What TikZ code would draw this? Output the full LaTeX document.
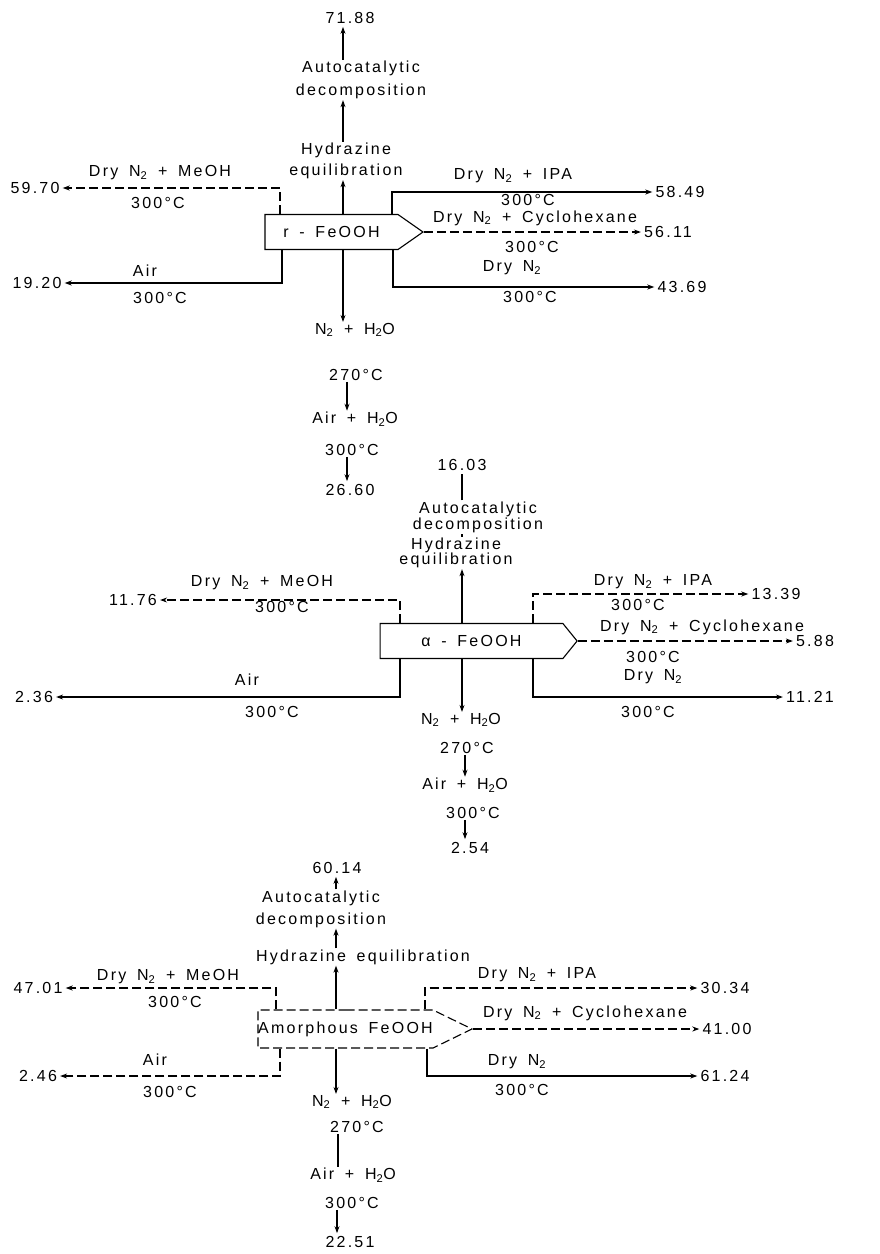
\documentclass[tikz,border=0pt]{standalone}
\usepackage{fontspec}
\setmainfont[LetterSpace=14, WordSpace=1.6]{Liberation Sans}
\usetikzlibrary{shapes.symbols,arrows.meta}
\tikzset{
  box/.style={draw, signal, signal to=east, line width=1.1pt, inner sep=2pt},
  txt/.style={inner sep=1pt, align=center},
  num/.style={inner sep=3pt},
  flow/.style={-{Stealth[length=7pt,width=5pt]}, line width=1.1pt},
  link/.style={line width=1.1pt},
  broken/.style={dash pattern=on 9pt off 4pt},
  every node/.style={font=\fontsize{16}{19}\selectfont},
}
\begin{document}
\begin{tikzpicture}[x=1pt,y=-1pt]
\path[use as bounding box, fill=white] (0,0) rectangle (879,1254);

% r-FeOOH
\node[box, signal pointer angle=70, minimum width=158pt, minimum height=35pt] (g) at (331.5,232) {r - FeOOH};
\node[num] (n7188) at (350,18) {71.88};
\node[txt] (auto1) at (361,80) {Autocatalytic\\[4pt]decomposition};
\node[txt] (hyd1) at (346,161) {Hydrazine\\[2pt]equilibration};
\draw[flow] ([xshift=11.5pt]g.north) -- (hyd1.south -| 343,0);
\draw[flow] (hyd1.north -| 343,0) -- (auto1.south -| 343,0);
\draw[flow] (auto1.north -| 343,0) -- (n7188.south -| 343,0);
\node[num] (n5970) at (35,188) {59.70};
\draw[flow, broken] ([xshift=-51.5pt]g.north) |- (n5970);
\node[txt] at (160,173) {Dry N\textsubscript{2} + MeOH};
\node[txt] at (158,203) {300°C};
\node[num] (n1920) at (37,283) {19.20};
\draw[flow] ([xshift=-49.5pt]g.south) |- (n1920);
\node[txt] at (145,271) {Air};
\node[txt] at (160,298) {300°C};
\node[num] (n5849) at (680,192) {58.49};
\draw[flow] ([xshift=60.5pt]g.north) |- (n5849);
\node[txt] at (513,176) {Dry N\textsubscript{2} + IPA};
\node[txt] at (528,200) {300°C};
\node[num] (n5611) at (668,232) {56.11};
\draw[flow, broken] (g.east) -- (n5611);
\node[txt] at (535,218) {Dry N\textsubscript{2} + Cyclohexane};
\node[txt] at (532,247) {300°C};
\node[num] (n4369) at (682,287) {43.69};
\draw[flow] ([xshift=61.5pt]g.south) |- (n4369);
\node[txt] at (512,268) {Dry N\textsubscript{2}};
\node[txt] at (530,297) {300°C};
\node[txt] (wet1) at (355,330) {N\textsubscript{2} + H\textsubscript{2}O};
\node[txt] (t1) at (356,375) {270°C};
\node[txt] (air1) at (355,419) {Air + H\textsubscript{2}O};
\node[txt] (t2) at (352,450) {300°C};
\node[num] (n2660) at (350,490) {26.60};
\draw[flow] ([xshift=11.5pt]g.south) -- (wet1.north -| 343,0);
\draw[flow] (t1.south -| 347,0) -- (air1.north -| 347,0);
\draw[flow] (t2.south -| 347,0) -- (n2660.north -| 347,0);

% alpha-FeOOH
\node[box, signal pointer angle=102, minimum width=197pt, minimum height=35pt] (a) at (471.5,641) {α - FeOOH\hspace{28pt}};
\node[num] (n1603) at (462,465) {16.03};
\node[txt] (auto2) at (478,517) {Autocatalytic\\[-3pt]decomposition};
\node[txt] (hyd2) at (456,553) {Hydrazine\\[-4pt]equilibration};
\draw[flow] ([xshift=-9.5pt]a.north) -- (hyd2.south -| 462,0);
\draw[link] (hyd2.north -| 462,0) -- (auto2.south -| 462,0);
\draw[link] (auto2.north -| 462,0) -- (n1603.south -| 462,0);
\node[num] (n1176) at (133,600) {11.76};
\draw[flow, broken] ([xshift=-71.5pt]a.north) |- (n1176);
\node[txt] at (262,583) {Dry N\textsubscript{2} + MeOH};
\node[txt] at (282,607) {300°C};
\node[num] (n236) at (34,697) {2.36};
\draw[flow] ([xshift=-71.5pt]a.south) |- (n236);
\node[txt] at (247,680) {Air};
\node[txt] at (272,712) {300°C};
\node[num] (n1339) at (776,594) {13.39};
\draw[flow, broken] ([xshift=61.5pt]a.north) |- (n1339);
\node[txt] at (653,582) {Dry N\textsubscript{2} + IPA};
\node[txt] at (638,605) {300°C};
\node[num] (n588) at (815,641) {5.88};
\draw[flow, broken] (a.east) -- (n588);
\node[txt] at (702,627) {Dry N\textsubscript{2} + Cyclohexane};
\node[txt] at (653,657) {300°C};
\node[num] (n1121) at (810,697) {11.21};
\draw[flow] ([xshift=61.5pt]a.south) |- (n1121);
\node[txt] at (653,677) {Dry N\textsubscript{2}};
\node[txt] at (648,712) {300°C};
\node[txt] (wet2) at (461,720) {N\textsubscript{2} + H\textsubscript{2}O};
\node[txt] (t3) at (467,748) {270°C};
\node[txt] (air2) at (465,785) {Air + H\textsubscript{2}O};
\node[txt] (t4) at (473,813) {300°C};
\node[num] (n254) at (470,848) {2.54};
\draw[flow] ([xshift=-9.5pt]a.south) -- (wet2.north -| 462,0);
\draw[flow] (t3.south -| 465,0) -- (air2.north -| 465,0);
\draw[flow] (t4.south -| 465,0) -- (n254.north -| 465,0);

% amorphous FeOOH
\node[box, broken, inner xsep=0pt, signal pointer angle=52, minimum width=214pt, minimum height=38pt] (m) at (345.5,1029) {Amorphous FeOOH};
\node[num] (n6014) at (337,868) {60.14};
\node[txt] (auto3) at (321,909) {Autocatalytic\\[3pt]decomposition};
\node[txt] (hyd3) at (363,957) {Hydrazine equilibration};
\draw[flow] ([xshift=-9.5pt]m.north) -- (hyd3.south -| 336,0);
\draw[flow] (hyd3.north -| 336,0) -- (auto3.south -| 336,0);
\draw[flow] (auto3.north -| 336,0) -- (n6014.south -| 336,0);
\node[num] (n4701) at (38,988) {47.01};
\draw[flow, broken] ([xshift=-69.5pt]m.north) |- (n4701);
\node[txt] at (168,977) {Dry N\textsubscript{2} + MeOH};
\node[txt] at (175,1002) {300°C};
\node[num] (n246) at (38,1076) {2.46};
\draw[flow, broken] ([xshift=-65.5pt]m.south) |- (n246);
\node[txt] at (155,1060) {Air};
\node[txt] at (170,1092) {300°C};
\node[num] (n3034) at (725,988) {30.34};
\draw[flow, broken] ([xshift=79.5pt]m.north) |- (n3034);
\node[txt] at (537,975) {Dry N\textsubscript{2} + IPA};
\node[num] (n4100) at (727,1029) {41.00};
\draw[flow, broken] (m.east) -- (n4100);
\node[txt] at (585,1013) {Dry N\textsubscript{2} + Cyclohexane};
\node[num] (n6124) at (725,1076) {61.24};
\draw[flow] ([xshift=81.5pt]m.south) |- (n6124);
\node[txt] at (517,1062) {Dry N\textsubscript{2}};
\node[txt] at (522,1090) {300°C};
\node[txt] (wet3) at (352,1102) {N\textsubscript{2} + H\textsubscript{2}O};
\node[txt] (t5) at (357,1127) {270°C};
\node[txt] (air3) at (353,1175) {Air + H\textsubscript{2}O};
\node[txt] (t6) at (352,1203) {300°C};
\node[num] (n2251) at (350,1242) {22.51};
\draw[flow] ([xshift=-9.5pt]m.south) -- (wet3.north -| 336,0);
\draw[link] (t5.south -| 338,0) -- (air3.north -| 338,0);
\draw[flow] (t6.south -| 337,0) -- (n2251.north -| 337,0);
\end{tikzpicture}
\end{document}
